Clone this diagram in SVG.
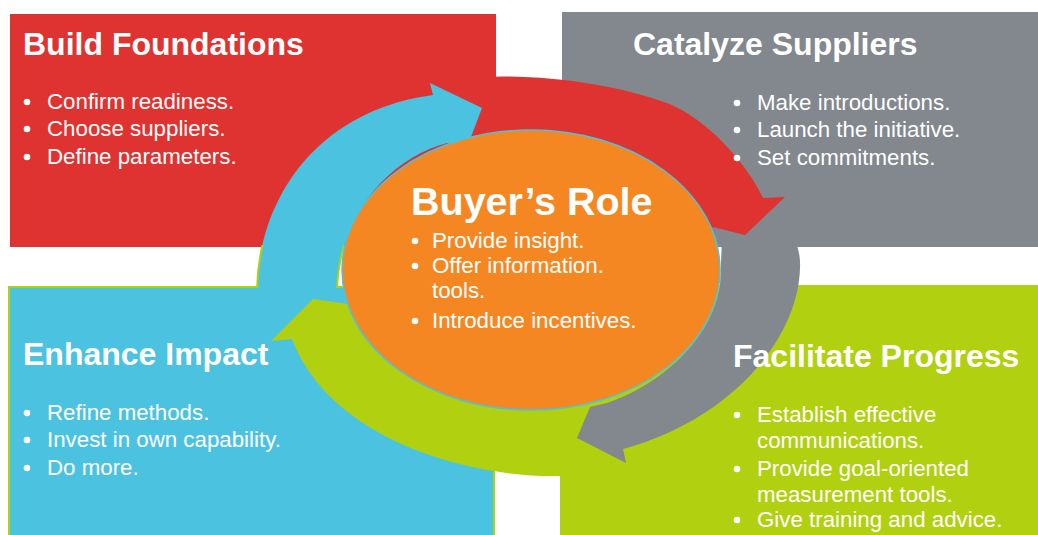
<svg xmlns="http://www.w3.org/2000/svg" width="1038" height="535" viewBox="0 0 1038 535">
  <style>
    .title { font-family: "Liberation Sans", Arial, sans-serif; font-weight: bold; font-size: 32px; fill: #ffffff; }
    .item { font-family: "Liberation Sans", Arial, sans-serif; font-size: 22.3px; fill: #ffffff; }
    .center-title { font-family: "Liberation Sans", Arial, sans-serif; font-weight: bold; font-size: 39.5px; fill: #ffffff; }
    .dot { fill: #ffffff; }
    .red { fill: #de3330; }
    .gray { fill: #82888d; }
    .blue { fill: #4bc3e0; }
    .lime { fill: #b0d010; }
  </style>
  <defs>
    <clipPath id="gapClip"><rect x="200" y="245" width="200" height="43"/></clipPath>
  </defs>
  <rect width="1038" height="535" fill="#ffffff"/>

  <!-- quadrant panels -->
  <g id="panel-build"><rect class="red" x="10" y="14" width="486" height="233"/></g>
  <g id="panel-catalyze"><rect class="gray" x="562" y="12" width="476" height="235"/></g>
  <g id="panel-enhance"><rect class="blue" x="9" y="287" width="485" height="260" stroke="#b0d010" stroke-width="2"/></g>
  <g id="panel-facilitate"><rect class="lime" x="560" y="285" width="478" height="250"/></g>

  <!-- circular arrows -->
  <g id="connectors">
    <path id="arrow-green" class="lime" d="M 620,470 L 560,476 C 470,478 330,440 292,339 L 271,341 L 313,299 L 355,305 C 370,360 450,395 560,395 L 620,395 Z"/>
    <path id="arrow-gray" class="gray" d="M 740,185 C 775,200 802,235 800,268 C 798,340 730,420 623,449 L 626,463 L 577,438 L 590,407 L 607,403 C 660,385 712,340 720,285 L 722,240 Z"/>
    <path id="arrow-red" class="red" d="M 450,80 C 520,70 610,82 667,103 C 705,118 745,160 763,198 L 785,197 L 745,235 L 713,227 L 700,240 C 680,180 600,145 531,145 C 490,145 460,150 440,160 Z"/>
    <path id="arrow-blue" class="blue" d="M 257,292 C 258,195 320,110 433,95 L 430,83 L 482,108 L 466,150 L 447,143 C 390,158 338,215 337,292 Z"/>
    <path class="blue" clip-path="url(#gapClip)" stroke="#b0d010" stroke-width="2" d="M 257,292 C 258,195 320,110 433,95 L 430,83 L 482,108 L 466,150 L 447,143 C 390,158 338,215 337,292 Z"/>
  </g>

  <!-- centre node -->
  <g id="node-buyer">
    <ellipse cx="531" cy="270" rx="189" ry="140" fill="#f58723" stroke="#4bc3e0" stroke-width="1.5"/>
    <text class="center-title" x="411" y="215">Buyer’s Role</text>
    <circle class="dot" cx="415" cy="241" r="3.3"/>
    <text class="item" x="432" y="248">Provide insight.</text>
    <circle class="dot" cx="415" cy="266" r="3.3"/>
    <text class="item" x="432" y="273">Offer information.</text>
    <text class="item" x="432" y="298">tools.</text>
    <circle class="dot" cx="415" cy="321" r="3.3"/>
    <text class="item" x="432" y="328">Introduce incentives.</text>
  </g>

  <g id="node-build">
    <text class="title" x="23" y="55">Build Foundations</text>
    <circle class="dot" cx="27" cy="102" r="3.3"/>
    <text class="item" x="47" y="109">Confirm readiness.</text>
    <circle class="dot" cx="27" cy="129" r="3.3"/>
    <text class="item" x="47" y="136">Choose suppliers.</text>
    <circle class="dot" cx="27" cy="157" r="3.3"/>
    <text class="item" x="47" y="164">Define parameters.</text>
  </g>

  <g id="node-catalyze">
    <text class="title" x="633" y="55">Catalyze Suppliers</text>
    <circle class="dot" cx="737" cy="103" r="3.3"/>
    <text class="item" x="757" y="110">Make introductions.</text>
    <circle class="dot" cx="737" cy="130" r="3.3"/>
    <text class="item" x="757" y="137">Launch the initiative.</text>
    <circle class="dot" cx="737" cy="158" r="3.3"/>
    <text class="item" x="757" y="165">Set commitments.</text>
  </g>

  <g id="node-enhance">
    <text class="title" x="23" y="365">Enhance Impact</text>
    <circle class="dot" cx="27" cy="413" r="3.3"/>
    <text class="item" x="47" y="420">Refine methods.</text>
    <circle class="dot" cx="27" cy="440" r="3.3"/>
    <text class="item" x="47" y="447">Invest in own capability.</text>
    <circle class="dot" cx="27" cy="468" r="3.3"/>
    <text class="item" x="47" y="475">Do more.</text>
  </g>

  <g id="node-facilitate">
    <text class="title" x="733" y="367">Facilitate Progress</text>
    <circle class="dot" cx="737" cy="415" r="3.3"/>
    <text class="item" x="757" y="422">Establish effective</text>
    <text class="item" x="757" y="448">communications.</text>
    <circle class="dot" cx="737" cy="469" r="3.3"/>
    <text class="item" x="757" y="476">Provide goal-oriented</text>
    <text class="item" x="757" y="502">measurement tools.</text>
    <circle class="dot" cx="737" cy="520" r="3.3"/>
    <text class="item" x="757" y="527">Give training and advice.</text>
  </g>
</svg>
